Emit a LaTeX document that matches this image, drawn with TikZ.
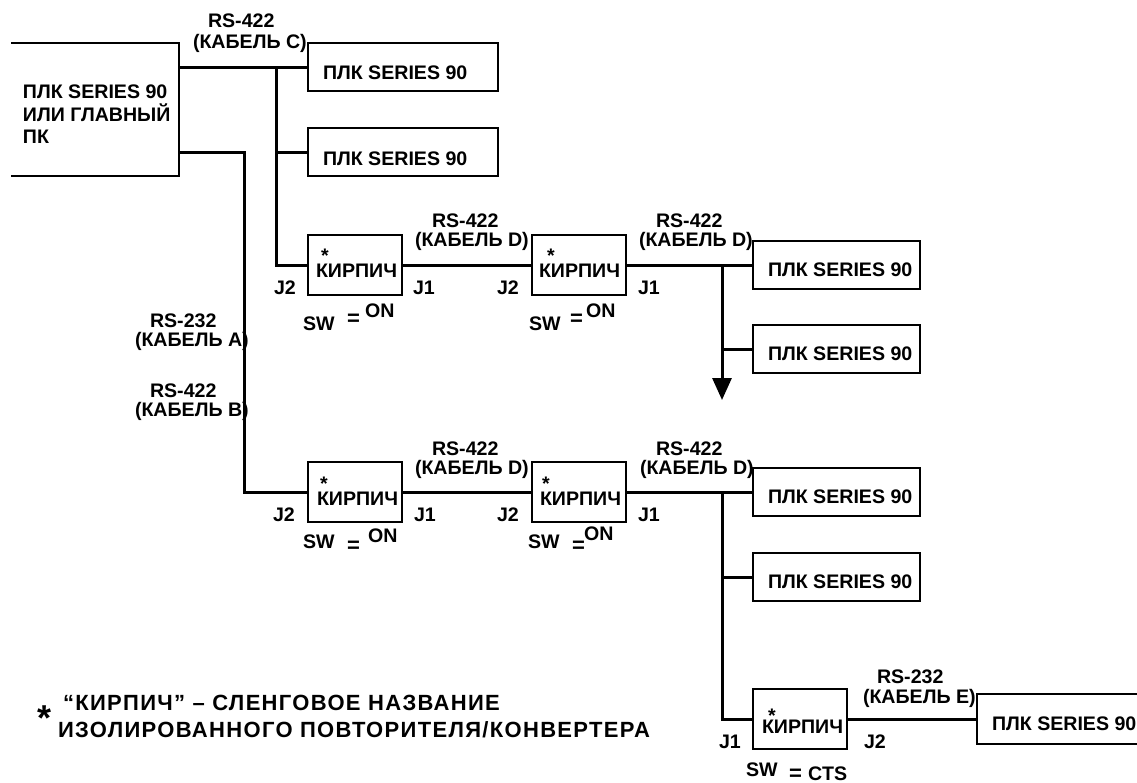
\documentclass[tikz,border=0pt]{standalone}
\usepackage{fontspec}
\setmainfont{Liberation Sans}
\newfontfamily\notefont[LetterSpace=6]{Liberation Sans}
\usetikzlibrary{arrows.meta}

\begin{document}
\begin{tikzpicture}[x=1pt,y=-1pt,
  every node/.style={inner sep=0pt, outer sep=0pt,
    font=\bfseries\fontsize{19.6}{22.5}\selectfont},
  boxline/.style={line width=1.8pt},
  bus/.style={line width=3pt},
  plcbox/.style={draw, boxline, anchor=north west, minimum width=190pt, minimum height=48pt},
  plcright/.style={draw, boxline, anchor=north west, minimum width=167pt, minimum height=48pt},
  brick/.style={draw, boxline, anchor=north west, minimum width=94pt, minimum height=60pt},
  lbl/.style={anchor=base west},
  eqsign/.style={anchor=base west, font=\bfseries\fontsize{22}{22}\selectfont},
  notetext/.style={anchor=base west, font=\notefont\bfseries\fontsize{22}{27}\selectfont}
]
\useasboundingbox (0,0) rectangle (1137,782);
\fill[white] (0,0) rectangle (1137,782);

% ---------- host controller (left edge open) ----------
\node[anchor=north west, minimum width=168pt, minimum height=133pt] (host) at (11,43) {};
\draw[boxline] (host.north west) -- (host.north east) -- (host.south east) -- (host.south west);
\node[anchor=north west, align=left] (hosttext) at (23,85) {ПЛК SERIES 90\\ИЛИ ГЛАВНЫЙ\\ПК};

% ---------- PLC boxes ----------
\node[plcbox] (p1) at (308,43) {};
\node[lbl] (p1t) at (323,79) {ПЛК SERIES 90};
\node[plcbox] (p2) at (308,128) {};
\node[lbl] (p2t) at (323,165) {ПЛК SERIES 90};
\node[plcright] (p3) at (753,241) {};
\node[lbl] (p3t) at (768,276) {ПЛК SERIES 90};
\node[plcright] (p4) at (753,325) {};
\node[lbl] (p4t) at (768,360) {ПЛК SERIES 90};
\node[plcright] (p5) at (753,468) {};
\node[lbl] (p5t) at (768,503) {ПЛК SERIES 90};
\node[plcright] (p6) at (753,553) {};
\node[lbl] (p6t) at (768,588) {ПЛК SERIES 90};
\node[anchor=north west, minimum width=160pt, minimum height=50pt] (p7) at (977,694) {};
\draw[boxline] (p7.north east) -- (p7.north west) -- (p7.south west) -- (p7.south east);
\node[lbl] (p7t) at (992,730) {ПЛК SERIES 90};

% ---------- repeaters ----------
\node[brick] (b1) at (308,235) {};
\node[brick] (b2) at (532,235) {};
\node[brick] (b3) at (308,462) {};
\node[brick] (b4) at (532,462) {};
\node[brick] (b5) at (753,689) {};

\node[lbl] (b1s) at (321,262) {*};
\node[lbl] (b1t) at (316,277) {КИРПИЧ};
\node[lbl] (b2s) at (547,262) {*};
\node[lbl] (b2t) at (539,277) {КИРПИЧ};
\node[lbl] (b3s) at (320,490) {*};
\node[lbl] (b3t) at (317,505) {КИРПИЧ};
\node[lbl] (b4s) at (542,490) {*};
\node[lbl] (b4t) at (540,505) {КИРПИЧ};
\node[lbl] (b5s) at (768,722) {*};
\node[lbl] (b5t) at (762,733) {КИРПИЧ};

% port labels
\node[lbl] (b1j2) at (274,294) {J2};
\node[lbl] (b1j1) at (413,294) {J1};
\node[lbl] (b2j2) at (497,294) {J2};
\node[lbl] (b2j1) at (638,294) {J1};
\node[lbl] (b3j2) at (273,521) {J2};
\node[lbl] (b3j1) at (414,521) {J1};
\node[lbl] (b4j2) at (497,521) {J2};
\node[lbl] (b4j1) at (638,521) {J1};
\node[lbl] (b5j1) at (719,748) {J1};
\node[lbl] (b5j2) at (864,748) {J2};

% switch settings
\node[lbl] (b1sw) at (303,330) {SW};
\node[eqsign] (b1eq) at (347,325) {=};
\node[lbl] (b1on) at (365,317) {ON};
\node[lbl] (b2sw) at (529,330) {SW};
\node[eqsign] (b2eq) at (570,325) {=};
\node[lbl] (b2on) at (586,317) {ON};
\node[lbl] (b3sw) at (303,548) {SW};
\node[eqsign] (b3eq) at (347,552) {=};
\node[lbl] (b3on) at (368,542) {ON};
\node[lbl] (b4sw) at (528,548) {SW};
\node[eqsign] (b4eq) at (572,552) {=};
\node[lbl] (b4on) at (584,540) {ON};
\node[lbl] (b5sw) at (746,776) {SW};
\node[eqsign] (b5eq) at (789,780) {=};
\node[lbl] (b5cts) at (808,780) {CTS};

% ---------- cables ----------
\coordinate (m1) at (179,67);
\coordinate (m2) at (179,152);
\coordinate (t1) at (276,67);
\coordinate (bendB) at (244,152);
\coordinate (t3) at (722,265);
\coordinate (tip) at (722,400);
\coordinate (t5) at (722,492);

\draw[bus] (m1) -- (m1 -| p1.west);
\draw[bus] (t1) |- (b1.west);
\draw[bus] (t1 |- p2.west) -- (p2.west);
\draw[bus] (m2) -- (bendB) |- (b3.west);
\draw[bus] (b1.east) -- (b2.west);
\draw[bus] (b2.east) -- (b2.east -| p3.west);
\draw[bus, -{Triangle[width=19pt,length=22pt]}] (t3) -- (tip);
\draw[bus] (t3 |- p4.west) -- (p4.west);
\draw[bus] (b3.east) -- (b4.west);
\draw[bus] (b4.east) -- (b4.east -| p5.west);
\draw[bus] (t5) |- (b5.west);
\draw[bus] (t5 |- p6.west) -- (p6.west);
\draw[bus] (b5.east) -- (b5.east -| p7.west);

% cable labels
\node[lbl] (lC1) at (208,27) {RS-422};
\node[lbl] (lC2) at (193,48) {(КАБЕЛЬ C)};
\node[lbl] (lA1) at (150,327) {RS-232};
\node[lbl] (lA2) at (135,346) {(КАБЕЛЬ A)};
\node[lbl] (lB1) at (150,397) {RS-422};
\node[lbl] (lB2) at (135,416) {(КАБЕЛЬ B)};
\node[lbl] (lD1a) at (432,227) {RS-422};
\node[lbl] (lD1b) at (415,246) {(КАБЕЛЬ D)};
\node[lbl] (lD2a) at (656,227) {RS-422};
\node[lbl] (lD2b) at (639,246) {(КАБЕЛЬ D)};
\node[lbl] (lD3a) at (432,455) {RS-422};
\node[lbl] (lD3b) at (415,474) {(КАБЕЛЬ D)};
\node[lbl] (lD4a) at (656,455) {RS-422};
\node[lbl] (lD4b) at (640,474) {(КАБЕЛЬ D)};
\node[lbl] (lE1) at (877,683) {RS-232};
\node[lbl] (lE2) at (863,703) {(КАБЕЛЬ E)};

% ---------- footnote ----------
\node[anchor=base west, font=\bfseries\fontsize{36}{36}\selectfont] (notestar) at (37,730) {*};
\node[notetext] (note1) at (63,710) {“КИРПИЧ” – СЛЕНГОВОЕ НАЗВАНИЕ};
\node[notetext] (note2) at (58,737) {ИЗОЛИРОВАННОГО ПОВТОРИТЕЛЯ/КОНВЕРТЕРА};
\end{tikzpicture}
\end{document}
